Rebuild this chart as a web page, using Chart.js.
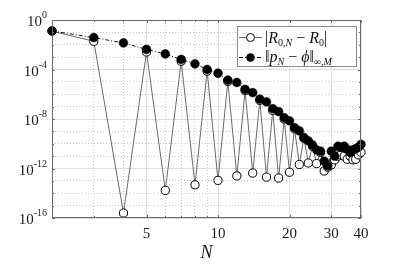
<!DOCTYPE html>
<html lang="en">
<head>
  <meta charset="UTF-8" />
  <title>Convergence of R0,N</title>
  <script src="https://cdn.jsdelivr.net/npm/chart.js"></script>
  <style>
    * { margin: 0; padding: 0; box-sizing: border-box; }
    body { background: #fff; overflow: hidden; }
  </style>
</head>
<body>
  <canvas id="chart" width="399" height="266"></canvas>

  <script>
    // N values on the horizontal axis
    const nValues = [2, 3, 4, 5, 6, 7, 8, 9, 10, 11, 12, 13, 14, 15, 16, 17, 18, 19, 20, 21,
                     22, 23, 24, 25, 26, 27, 28, 29, 30, 31, 32, 33, 34, 35, 36, 37, 38, 39, 40];

    // |R_{0,N} - R_0|  (open circles)
    const residualErr = [1.26e-1, 1.9e-2, 2.5e-16, 2.6e-3, 1.7e-14, 4.7e-4, 4.8e-14, 7.4e-5, 1.1e-13, 1.1e-5,
                         2.5e-13, 2.0e-6, 4.3e-13, 3.2e-7, 2.0e-13, 5.0e-8, 1.7e-13, 1.0e-8, 5.0e-13, 1.6e-9,
                         2.1e-12, 2.8e-10, 2.8e-12, 6.3e-11, 2.5e-12, 2.0e-11, 6.3e-13, 1.26e-12, 2.0e-12, 5.0e-12,
                         1.0e-11, 1.26e-11, 1.0e-11, 5.6e-12, 1.0e-11, 5.0e-12, 5.6e-12, 1.26e-11, 2.0e-11];

    // ||p_N - phi||_{inf,M}  (filled circles)
    const supErr = [1.3e-1, 3.8e-2, 1.4e-2, 4.2e-3, 1.8e-3, 6.5e-4, 2.9e-4, 1.0e-4, 5.0e-5, 1.4e-5,
                    8.9e-6, 2.5e-6, 1.35e-6, 4.0e-7, 2.4e-7, 6.8e-8, 4.0e-8, 1.26e-8, 7.1e-9, 2.0e-9,
                    1.1e-9, 3.2e-10, 1.7e-10, 7.9e-11, 3.2e-11, 2.5e-11, 4.0e-12, 1.6e-12, 2.5e-11, 1.0e-11,
                    6.3e-11, 5.0e-11, 6.3e-11, 3.5e-11, 2.0e-11, 3.2e-11, 4.0e-11, 5.0e-11, 8.9e-11];

    // axis ticks
    const xMajorTicks = [5, 10, 20, 30, 40];
    const xMinorTicks = [2, 3, 4, 6, 7, 8, 9];
    const yLabelExps = [0, -4, -8, -12, -16];

    const SERIF = '"Liberation Serif", "DejaVu Serif", serif';
    const AXIS_COLOR = '#6b6b6b';

    // draws a run of [text, italic, shiftY, size] pieces, returns end x
    function drawRun(ctx, x, y, pieces) {
      pieces.forEach(([txt, italic, dy, size]) => {
        ctx.font = (italic ? 'italic ' : '') + size + 'px ' + SERIF;
        ctx.fillText(txt, x, y + dy);
        x += ctx.measureText(txt).width;
      });
      return x;
    }

    const decorPlugin = {
      id: 'decor',
      afterDraw(chart) {
        const ctx = chart.ctx;
        const a = chart.chartArea;
        const xs = chart.scales.x, ys = chart.scales.y;
        ctx.save();

        // box
        ctx.strokeStyle = AXIS_COLOR;
        ctx.lineWidth = 1;
        ctx.strokeRect(a.left + 0.5, a.top + 0.5, a.right - a.left - 1, a.bottom - a.top - 1);

        // inward ticks
        ctx.beginPath();
        [...xMajorTicks, ...xMinorTicks].forEach(v => {
          const px = Math.round(xs.getPixelForValue(v)) + 0.5;
          const len = xMajorTicks.includes(v) ? 3 : 2;
          ctx.moveTo(px, a.bottom); ctx.lineTo(px, a.bottom - len);
          ctx.moveTo(px, a.top); ctx.lineTo(px, a.top + len);
        });
        for (let e = -16; e <= 0; e++) {
          const py = Math.round(ys.getPixelForValue(Math.pow(10, e))) + 0.5;
          const len = yLabelExps.includes(e) ? 3 : 2;
          ctx.moveTo(a.left, py); ctx.lineTo(a.left + len, py);
          ctx.moveTo(a.right, py); ctx.lineTo(a.right - len, py);
        }
        ctx.stroke();

        // y tick labels 10^k
        ctx.fillStyle = '#1a1a1a';
        ctx.textBaseline = 'alphabetic';
        ctx.textAlign = 'left';
        yLabelExps.forEach(e => {
          const py = ys.getPixelForValue(Math.pow(10, e));
          ctx.font = '10px ' + SERIF;
          const ew = ctx.measureText(String(e)).width;
          ctx.font = '15px ' + SERIF;
          const bw = ctx.measureText('10').width;
          const x0 = a.left - 5 - ew - bw;
          drawRun(ctx, x0, py + 6, [['10', false, 0, 15], [String(e), false, -8, 10]]);
        });

        // axis title
        ctx.font = 'italic 18px ' + SERIF;
        ctx.textAlign = 'center';
        ctx.fillText('N', (a.left + a.right) / 2, 258);
        ctx.textAlign = 'left';

        // legend
        const lx = 237, ly = 26, lw = 119, lh = 40;
        ctx.fillStyle = '#fff';
        ctx.fillRect(lx, ly, lw, lh);
        ctx.strokeStyle = '#8a8a8a';
        ctx.lineWidth = 1;
        ctx.strokeRect(lx + 0.5, ly + 0.5, lw, lh);

        const r1 = 37.5, r2 = 57.5;
        // sample 1: solid gray line + open circle
        ctx.strokeStyle = '#666';
        ctx.beginPath(); ctx.moveTo(239, r1); ctx.lineTo(262, r1); ctx.stroke();
        ctx.beginPath(); ctx.arc(250.5, r1, 4, 0, Math.PI * 2);
        ctx.fillStyle = '#fff'; ctx.fill();
        ctx.strokeStyle = '#000'; ctx.stroke();
        // sample 2: dash-dot black line + filled circle
        ctx.setLineDash([4, 2, 1, 2]);
        ctx.strokeStyle = '#000';
        ctx.beginPath(); ctx.moveTo(239, r2); ctx.lineTo(262, r2); ctx.stroke();
        ctx.setLineDash([]);
        ctx.beginPath(); ctx.arc(250.5, r2, 4.3, 0, Math.PI * 2);
        ctx.fillStyle = '#000'; ctx.fill();

        ctx.fillStyle = '#111';
        drawRun(ctx, 265, r1 + 5, [
          ['|', false, 0, 16], ['R', true, 0, 16], ['0,', false, 3, 10], ['N', true, 3, 10],
          [' \u2212 ', false, 0, 16], ['R', true, 0, 16], ['0', false, 3, 10], ['|', false, 0, 16]
        ]);
        drawRun(ctx, 265, r2 + 4, [
          ['\u2016', false, 0, 16], ['p', true, 0, 16], ['N', true, 3, 10],
          [' \u2212 ', false, 0, 16], ['\u03d5', true, 0, 16], ['\u2016', false, 0, 16],
          ['\u221e,', false, 3, 10], ['M', true, 3, 10]
        ]);
        ctx.restore();
      }
    };

    const ctx = document.getElementById('chart').getContext('2d');
    new Chart(ctx, {
      type: 'line',
      data: {
        datasets: [
          {
            label: '||p_N - phi||',
            data: nValues.map((n, i) => ({ x: n, y: supErr[i] })),
            borderColor: '#000',
            borderWidth: 0.9,
            borderDash: [4, 2, 1, 2],
            pointRadius: 4.4,
            pointBackgroundColor: '#000',
            pointBorderColor: '#000',
            pointBorderWidth: 0.5,
            order: 0
          },
          {
            label: '|R0,N - R0|',
            data: nValues.map((n, i) => ({ x: n, y: residualErr[i] })),
            borderColor: '#6a6a6a',
            borderWidth: 1,
            pointRadius: 4.1,
            pointBackgroundColor: '#fff',
            pointBorderColor: '#000',
            pointBorderWidth: 1,
            order: 1
          }
        ]
      },
      options: {
        responsive: false,
        animation: false,
        clip: false,
        layout: { padding: { top: 20, right: 38, left: 0, bottom: 0 } },
        plugins: { legend: { display: false }, tooltip: { enabled: false } },
        scales: {
          x: {
            type: 'logarithmic',
            min: 2,
            max: 40,
            afterBuildTicks: s => { s.ticks = [...xMinorTicks, ...xMajorTicks].sort((p, q) => p - q).map(v => ({ value: v })); },
            afterFit: s => { s.height = 48; },
            ticks: {
              autoSkip: false,
              maxRotation: 0,
              padding: 7,
              color: '#1a1a1a',
              font: { family: SERIF, size: 15 },
              callback: v => xMajorTicks.includes(v) ? String(v) : ''
            },
            grid: {
              drawTicks: false,
              color: c => xMajorTicks.includes(c.tick && c.tick.value) ? '#dedede' : '#c8c8c8',
              lineWidth: 1
            },
            border: {
              display: false,
              dash: c => xMajorTicks.includes(c.tick && c.tick.value) ? [] : [1, 2]
            }
          },
          y: {
            type: 'logarithmic',
            min: 1e-16,
            max: 1,
            afterBuildTicks: s => {
              const t = [];
              for (let e = -16; e <= 0; e++) t.push({ value: Math.pow(10, e) });
              s.ticks = t;
            },
            afterFit: s => { s.width = 52; },
            ticks: { display: false },
            grid: {
              drawTicks: false,
              color: c => {
                const e = Math.round(Math.log10(c.tick ? c.tick.value : 1));
                return yLabelExps.includes(e) ? '#dedede' : '#c8c8c8';
              },
              lineWidth: 1
            },
            border: {
              display: false,
              dash: c => {
                const e = Math.round(Math.log10(c.tick ? c.tick.value : 1));
                return yLabelExps.includes(e) ? [] : [1, 2];
              }
            }
          }
        }
      },
      plugins: [decorPlugin]
    });
  </script>
</body>
</html>
